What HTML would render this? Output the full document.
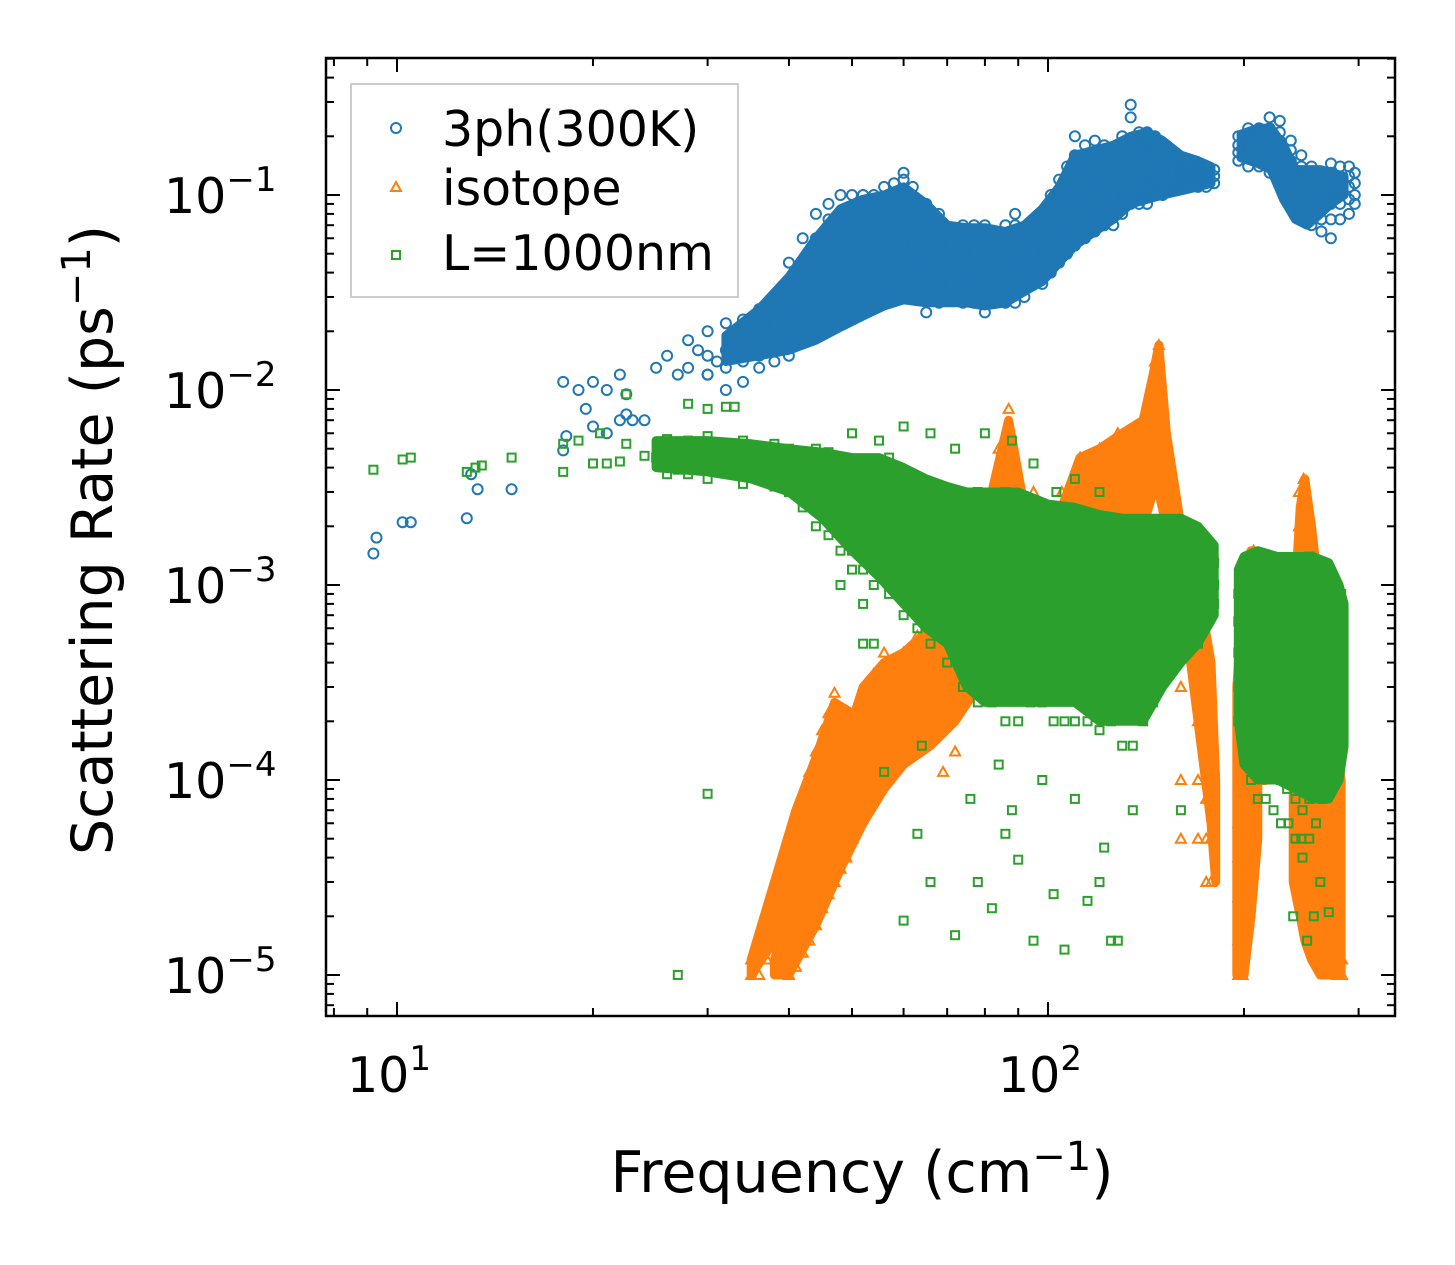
<!DOCTYPE html>
<html><head><meta charset="utf-8"><style>
html,body{margin:0;padding:0;background:#fff;}
svg{display:block;font-family:"DejaVu Sans","Liberation Sans",sans-serif;}
</style></head><body>
<svg id="chart" width="1455" height="1265" viewBox="0 0 1455 1265" xmlns="http://www.w3.org/2000/svg">
<rect width="1455" height="1265" fill="#fff"/>
<g id="marks"></g>
<g id="axes"></g>
<g id="legend">
<rect x="351" y="84" width="387" height="213" fill="#fff" fill-opacity="0.85" stroke="#ccc" stroke-width="2"/>
<circle cx="396" cy="128" r="5" fill="none" stroke="#1f77b4" stroke-width="2"/>
<text x="442" y="146" font-size="49">3ph(300K)</text>
<polygon points="396,182 401,191 391,191" fill="none" stroke="#ff7f0e" stroke-width="2"/>
<text x="442" y="205" font-size="49">isotope</text>
<rect x="392" y="251" width="8" height="8" fill="none" stroke="#2ca02c" stroke-width="2"/>
<text x="442" y="270" font-size="49">L=1000nm</text>
</g>
<text x="862" y="1192" font-size="57" text-anchor="middle">Frequency (cm<tspan dy="-22" font-size="40">−1</tspan><tspan dy="22">)</tspan></text>
<text transform="translate(112,540) rotate(-90)" font-size="57" text-anchor="middle">Scattering Rate (ps<tspan dy="-22" font-size="40">−1</tspan><tspan dy="22">)</tspan></text>
</svg>
<script>
// ---- data (frequency cm^-1 : rates ps^-1) ----
const blueScatter = [[9.2,1.45e-3],[9.3,1.75e-3],[10.2,2.1e-3],[10.5,2.1e-3],[12.8,2.2e-3],[13.3,3.1e-3],[13,3.7e-3],[15,3.1e-3],[18,1.1e-2],[18.2,5.8e-3],[18,4.9e-3],[19,1.0e-2],[19.5,8e-3],[20,1.1e-2],[20,6.5e-3],[21,1.0e-2],[21,6e-3],[22,1.2e-2],[22,7e-3],[22.5,9.5e-3],[22.5,7.5e-3],[23,7e-3],[24,7e-3],[25,1.3e-2],[26,1.5e-2],[27,1.2e-2],[28,1.8e-2],[28,1.3e-2],[29,1.6e-2],[30,1.2e-2],[31,1.4e-2]];
const blueFreq = [30,32,34,36,38,40,42,44,46,48,50,52,54,56,58,60,62,65,68,71,74,77,80,83,86,89,92,95,98,101,104,107,110,114,118,122,126,130,134,138,142,146,150,155,160,165,170,175,180,196,203,211,219,227,236,245,254,263,272,281,290,296];
const blueRates = [
[1.2e-2,1.5e-2,2e-2],[1.3e-2,1.6e-2,2.2e-2,1.0e-2],[1.4e-2,1.8e-2,2.3e-2,1.1e-2],[1.5e-2,2e-2,2.6e-2,1.3e-2],[1.6e-2,2.2e-2,3e-2,1.4e-2],
[1.8e-2,2.5e-2,3.5e-2,4.5e-2,1.5e-2],[1.8e-2,2.5e-2,3.2e-2,4.5e-2,6e-2],[2e-2,3e-2,4e-2,6e-2,8e-2],[2e-2,2.8e-2,4e-2,5.5e-2,7.5e-2,9e-2],[2.2e-2,3e-2,4.5e-2,6e-2,8e-2,1e-1],
[2.5e-2,3.5e-2,4.5e-2,6e-2,8e-2,1e-1],[2.5e-2,3.5e-2,5e-2,6.5e-2,8.5e-2,1e-1],[2.8e-2,3.8e-2,5e-2,6.5e-2,8e-2,1e-1],[3e-2,4e-2,5e-2,6.5e-2,8e-2,1.1e-1],[3e-2,4e-2,5.5e-2,7e-2,9e-2,1.15e-1],
[3e-2,4e-2,5.5e-2,7e-2,9e-2,1.2e-1,1.3e-1],[3.2e-2,4.5e-2,5.5e-2,7e-2,9e-2,1.1e-1],[2.5e-2,3.5e-2,4.5e-2,5.5e-2,7e-2,9e-2],[2.8e-2,3.5e-2,4.5e-2,5.5e-2,7e-2,8e-2],[3e-2,3.5e-2,4.5e-2,5.5e-2,6.5e-2],
[2.8e-2,3.5e-2,4.2e-2,5e-2,6e-2,7e-2],[2.8e-2,3.5e-2,4e-2,5e-2,6e-2,7e-2],[2.5e-2,3.2e-2,4e-2,5e-2,6e-2,7e-2],[2.8e-2,3.5e-2,4e-2,5e-2,6e-2],[2.8e-2,3.2e-2,4e-2,5e-2,6e-2,7e-2],
[2.8e-2,3.5e-2,4.5e-2,5.5e-2,7e-2,8e-2],[3e-2,3.8e-2,4.5e-2,5.5e-2,6.5e-2],[3.5e-2,4e-2,5e-2,6e-2,7e-2],[3.5e-2,4.5e-2,5.5e-2,6.5e-2,8e-2],[4e-2,5e-2,6e-2,7e-2,8.5e-2,1e-1],
[4.5e-2,5.5e-2,7e-2,8.5e-2,1e-1,1.2e-1],[5e-2,6e-2,7.5e-2,9e-2,1.1e-1,1.4e-1],[5.5e-2,7e-2,8.5e-2,1e-1,1.3e-1,1.6e-1,2e-1],[6e-2,7.5e-2,9e-2,1.1e-1,1.4e-1,1.8e-1],[6.5e-2,8e-2,1e-1,1.2e-1,1.5e-1,1.9e-1],
[7e-2,8.5e-2,1e-1,1.2e-1,1.5e-1,1.8e-1],[7e-2,8.5e-2,1e-1,1.2e-1,1.5e-1],[8e-2,9e-2,1.1e-1,1.3e-1,1.6e-1,2e-1],[9e-2,1.05e-1,1.25e-1,1.5e-1,1.9e-1,2.5e-1,2.9e-1],[9e-2,1.05e-1,1.25e-1,1.5e-1,1.8e-1,2.1e-1],
[9e-2,1.1e-1,1.3e-1,1.6e-1,1.9e-1,2.1e-1],[1e-1,1.15e-1,1.3e-1,1.5e-1,1.8e-1,2e-1],[1e-1,1.1e-1,1.25e-1,1.4e-1,1.6e-1],[1.05e-1,1.15e-1,1.3e-1,1.45e-1,1.6e-1],[1.1e-1,1.2e-1,1.3e-1,1.45e-1,1.55e-1],
[1.1e-1,1.2e-1,1.3e-1,1.4e-1],[1.1e-1,1.2e-1,1.3e-1,1.4e-1],[1.1e-1,1.2e-1,1.3e-1,1.4e-1],[1.15e-1,1.25e-1,1.35e-1],
[1.5e-1,1.65e-1,1.8e-1,2e-1],[1.4e-1,1.6e-1,1.8e-1,2e-1,2.2e-1],[1.4e-1,1.6e-1,1.8e-1,2e-1,2.2e-1],[1.3e-1,1.5e-1,1.7e-1,1.9e-1,2.2e-1,2.5e-1],[1.3e-1,1.5e-1,1.7e-1,1.9e-1,2.1e-1,2.4e-1],
[1.1e-1,1.3e-1,1.5e-1,1.7e-1,1.9e-1],[8e-2,1e-1,1.2e-1,1.4e-1,1.6e-1],[7e-2,8.5e-2,1e-1,1.2e-1,1.4e-1],[6.5e-2,7.5e-2,9e-2,1.1e-1,1.3e-1],[6e-2,7.5e-2,9e-2,1.05e-1,1.3e-1,1.45e-1],
[7.5e-2,9e-2,1.05e-1,1.2e-1,1.4e-1],[8e-2,9.5e-2,1.1e-1,1.25e-1,1.4e-1],[9e-2,1e-1,1.15e-1,1.3e-1]];

// dense-region envelopes: [frequency, low rate, high rate]
const blueBandMain = [[32,1.4e-2,1.9e-2],[36,1.5e-2,2.6e-2],[40,1.6e-2,3.8e-2],[44,1.8e-2,6e-2],[48,2.1e-2,8.5e-2],[52,2.4e-2,9.5e-2],[56,2.7e-2,1e-1],[60,2.9e-2,1.1e-1],[65,2.8e-2,9e-2],[70,2.8e-2,7e-2],[75,2.8e-2,6.8e-2],[80,2.7e-2,6.8e-2],[86,2.8e-2,6.5e-2],[92,3.2e-2,7e-2],[98,3.6e-2,8.5e-2],[104,4.5e-2,1.1e-1],[110,5.5e-2,1.6e-1],[118,6.5e-2,1.7e-1],[126,7.5e-2,1.8e-1],[134,9e-2,2e-1],[142,9.5e-2,2.1e-1],[150,1e-1,1.9e-1],[160,1.05e-1,1.6e-1],[170,1.1e-1,1.5e-1],[178,1.15e-1,1.4e-1]];
const blueBandHigh = [[198,1.55e-1,2.05e-1],[210,1.45e-1,2.2e-1],[220,1.35e-1,2.2e-1],[230,9.5e-2,1.8e-1],[240,7.5e-2,1.35e-1],[250,7e-2,1.35e-1],[262,8e-2,1.35e-1],[272,9e-2,1.3e-1],[285,1e-1,1.25e-1]];

const orangeBandA = [[38,1e-5,1.2e-5],[40,1e-5,2e-5],[44,1.8e-5,5e-5],[48,3.5e-5,1.3e-4],[52,6e-5,3e-4],[56,9e-5,4e-4],[60,1.2e-4,4.5e-4],[66,1.5e-4,6e-4],[72,2e-4,7e-4],[78,3e-4,1e-3]];
const orangeBandB = [[35,1e-5,1.2e-5],[38,1.5e-5,3e-5],[41,2.5e-5,7e-5],[44,4e-5,1.3e-4],[47,6e-5,2.5e-4],[50,8e-5,2.2e-4]];
const orangeBandC = [[82,1e-3,3e-3],[87,1.5e-3,7e-3],[92,1.2e-3,2.5e-3],[105,1.2e-3,2.5e-3],[112,1.5e-3,4.5e-3],[120,1.5e-3,5e-3],[130,2e-3,6e-3],[140,2e-3,7e-3],[145,3e-3,1.2e-2],[148,3e-3,1.7e-2],[152,2e-3,6e-3],[160,1e-3,2e-3],[170,2e-4,1e-3],[178,6e-5,4e-4],[181,3e-5,1e-4]];
const orangeBandD = [[195,1e-5,3e-4],[200,1e-5,1e-3],[205,2e-5,1.5e-3],[210,5e-5,1e-3]];
const orangeBandE = [[238,3e-5,6e-4],[244,2e-5,2.5e-3],[248,1.5e-5,3.5e-3],[254,1.2e-5,2e-3],[262,1e-5,8e-4],[272,1e-5,3e-4],[282,1e-5,1e-4]];

const greenBandMain = [[25,4e-3,5.5e-3],[30,3.8e-3,5.5e-3],[35,3.5e-3,5.3e-3],[40,3e-3,5e-3],[45,2.2e-3,4.8e-3],[50,1.5e-3,4.5e-3],[55,1.1e-3,4.5e-3],[60,8e-4,4e-3],[65,6e-4,3.5e-3],[70,5e-4,3.2e-3],[75,3e-4,3e-3],[80,2.5e-4,3e-3],[90,2.5e-4,3e-3],[100,2.5e-4,2.6e-3],[110,2.5e-4,2.5e-3],[120,2e-4,2.3e-3],[130,2e-4,2.2e-3],[140,2e-4,2.2e-3],[150,3e-4,2.2e-3],[160,4e-4,2.2e-3],[170,5e-4,2e-3],[180,7e-4,1.6e-3]];
const greenBandHigh = [[196,2e-4,1.2e-3],[200,1.2e-4,1.4e-3],[210,1e-4,1.5e-3],[225,1e-4,1.4e-3],[240,9e-5,1.4e-3],[255,8e-5,1.4e-3],[270,8e-5,1.3e-3],[280,1e-4,1e-3],[285,1.5e-4,8e-4]];

const orangeFreq = [35,36,37,38,39,40,41,42,43,44,45,46,47,48,49,50,51,52,54,56,58,60,63,66,69,72,78,84,87,95,105,112,120,128,136,142,146,148,150,160,170,175,178,196,199,203,207,212,238,243,247,251,255,259,263,268,273,278,283];
const orangeRates = [
[1e-5,1.2e-5],[1e-5,1.3e-5,1.6e-5],[1.2e-5,1.6e-5,2e-5],[1.4e-5,2e-5,2.6e-5],[1.1e-5,1.8e-5,2.6e-5,3.4e-5],
[1e-5,1.3e-5,2.3e-5,3.5e-5,4.5e-5],[1.1e-5,1.5e-5,3e-5,4.5e-5,6e-5],[1.3e-5,1.8e-5,4e-5,6e-5,8e-5],[1.5e-5,2.2e-5,5e-5,8e-5,1.1e-4],[1.8e-5,2.6e-5,6.5e-5,1e-4,1.4e-4],
[2.2e-5,3e-5,8e-5,1.3e-4,1.8e-4],[2.6e-5,3.6e-5,1e-4,1.6e-4,2.2e-4],[3e-5,4.5e-5,1.2e-4,2e-4,2.8e-4],[3.5e-5,5e-5,7e-5,1e-4,1.5e-4],[4e-5,6e-5,8e-5,1.2e-4,1.6e-4],
[5e-5,7e-5,1e-4,1.4e-4],[6e-5,8e-5,1.1e-4,1.5e-4,2e-4],[7e-5,1e-4,1.3e-4,1.8e-4,2.4e-4],[8e-5,1.1e-4,1.5e-4,2e-4,2.8e-4,3.5e-4],[1e-4,1.4e-4,1.9e-4,2.5e-4,3.3e-4,4.5e-4],
[1.2e-4,1.6e-4,2.2e-4,3e-4,4e-4],[1.4e-4,1.9e-4,2.6e-4,3.4e-4,4.5e-4],[1.7e-4,2.3e-4,3e-4,4e-4,5.5e-4],[2e-4,2.7e-4,3.5e-4,4.5e-4,6e-4,7e-4],[1.1e-4,2.5e-4,3.2e-4,4.2e-4,5.5e-4],
[1.4e-4,3e-4,4e-4,5e-4],[3e-4,6e-4,1e-3],[1.5e-3,3e-3,5e-3],[2e-3,4e-3,8e-3],[1e-3,2e-3,3e-3],
[1e-3,2e-3,3e-3],[1.5e-3,3e-3,4.5e-3],[2e-3,3.5e-3,5e-3],[2e-3,4e-3,6e-3],[2e-3,3.5e-3,5e-3],
[3e-3,5e-3,7e-3],[3e-3,6e-3,1e-2,1.4e-2],[4e-3,8e-3,1.2e-2,1.7e-2],[3e-3,5e-3,8e-3],[5e-5,1e-4,3e-4],
[5e-5,1e-4,2e-4,4e-4],[3e-5,5e-5,8e-5,1.2e-4],[3e-5,5e-5],[1e-5,1.5e-5,2.5e-5,4e-5,6e-5],[1e-5,2e-5,3e-5,5e-5,8e-5,1.2e-4],
[2e-5,4e-5,1e-4,2e-4,4e-4,1e-3],[5e-5,1e-4,2e-4,5e-4,1e-3,1.5e-3],[1e-4,2e-4,5e-4],[1e-4,3e-4,1e-3],[2e-4,5e-4,1e-3,2e-3,3e-3],
[3e-4,6e-4,1.2e-3,2.5e-3,3.5e-3],[2e-4,5e-4,1e-3,2e-3],[8e-5,2e-4,5e-4,1e-3],[5e-5,1e-4,2e-4],[3e-5,5e-5,1e-4],
[2e-5,3e-5,5e-5],[1.2e-5,2e-5,3e-5],[1e-5,1.3e-5,2e-5],[1e-5,1.2e-5]];

const greenScatter = [[9.2,3.9e-3],[10.2,4.4e-3],[10.5,4.5e-3],[12.8,3.8e-3],[13.2,4e-3],[13.5,4.1e-3],[15,4.5e-3],[18,3.8e-3],[18,5.3e-3],[19,5.5e-3],[20,4.2e-3],[20.5,6e-3],[21,4.2e-3],[22,4.3e-3],[22.5,5.3e-3],[22.5,9.5e-3],[24,4.6e-3],[25,4.5e-3],[26,3.7e-3],[27,3.9e-3],[28,8.5e-3],[30,8e-3],[32,8.2e-3],[33,8.2e-3],[27,1e-5],[30,8.5e-5],
[60,1.9e-5],[63,5.3e-5],[66,3e-5],[72,1.6e-5],[78,3e-5],[82,2.2e-5],[86,5.3e-5],[90,3.9e-5],[95,1.5e-5],[102,2.6e-5],[106,1.35e-5],[115,2.4e-5],[120,3e-5],[125,1.5e-5],[128,1.5e-5],[88,7e-5],[98,1e-4],[110,8e-5],[122,4.5e-5],[135,7e-5],[160,7e-5],[56,1.1e-4],[50,1.5e-3],[52,5e-4],[64,1.5e-4],[76,8e-5],[84,1.2e-4],[55,5.5e-3],[60,6.5e-3],[66,6e-3],[72,5e-3],[80,6e-3],[88,5.5e-3],[95,4.2e-3],[103,3e-3],[110,3.5e-3],[120,3e-3],
[238,2e-5],[250,1.5e-5],[256,2e-5],[262,3e-5],[270,2.1e-5],[245,5e-5],[233,9e-5]];
const greenFreq = [26,28,30,32,34,36,38,40,42,44,46,48,50,52,54,57,60,63,66,70,74,78,82,86,90,94,98,102,106,110,115,120,125,130,135,140,145,150,155,160,165,170,175,180,196,200,205,210,216,222,228,234,240,246,252,258,264,270,276,282];
const greenRates = [
[4e-3,5e-3,5.6e-3],[3.7e-3,4.5e-3,5.5e-3],[3.5e-3,4.3e-3,5.2e-3,5.8e-3],[3.8e-3,4.5e-3,5.3e-3],[3.3e-3,4e-3,4.8e-3,5.5e-3],
[3.5e-3,4.2e-3,5e-3],[3.2e-3,4e-3,4.8e-3,5.3e-3],[3e-3,3.8e-3,4.5e-3,5e-3],[2.5e-3,3.2e-3,4e-3,4.8e-3],[2e-3,2.8e-3,3.5e-3,4.3e-3,5e-3],
[1.8e-3,2.5e-3,3.2e-3,4e-3,4.8e-3],[1.5e-3,2e-3,2.8e-3,3.6e-3,4.5e-3,1e-3],[1.2e-3,1.8e-3,2.5e-3,3.2e-3,4e-3,6e-3],[1.2e-3,1.6e-3,2.2e-3,3e-3,3.8e-3,8e-4],[1e-3,1.5e-3,2e-3,2.8e-3,3.6e-3,5e-4],
[9e-4,1.3e-3,1.8e-3,2.5e-3,3.2e-3,4.5e-3],[7e-4,1e-3,1.5e-3,2e-3,2.8e-3,3.8e-3],[6e-4,9e-4,1.3e-3,1.8e-3,2.5e-3,3.5e-3],[5e-4,8e-4,1.2e-3,1.7e-3,2.4e-3,3.3e-3],[4e-4,7e-4,1e-3,1.5e-3,2.2e-3,3e-3],
[3e-4,5e-4,8e-4,1.2e-3,1.8e-3,2.6e-3],[2.5e-4,4e-4,6e-4,9e-4,1.3e-3,2e-3,3e-3],[2.5e-4,3.5e-4,5e-4,7e-4,1e-3,1.5e-3,2.2e-3],[2e-4,3e-4,4.5e-4,6.5e-4,9e-4,1.3e-3,2e-3,3e-3],[2e-4,3e-4,4.5e-4,6e-4,8.5e-4,1.2e-3,1.7e-3,2.5e-3],
[2.5e-4,3.5e-4,5e-4,7e-4,1e-3,1.4e-3,2e-3],[2.5e-4,3.5e-4,5e-4,7e-4,1e-3,1.4e-3,1.9e-3,2.5e-3],[2e-4,3e-4,4.5e-4,6.5e-4,9e-4,1.3e-3,1.8e-3,2.3e-3],[2e-4,3e-4,4.5e-4,6.5e-4,9e-4,1.3e-3,1.8e-3],[2e-4,3e-4,4.5e-4,6.5e-4,9e-4,1.3e-3,1.8e-3,2.2e-3],
[2e-4,3e-4,4.5e-4,6.5e-4,9e-4,1.2e-3,1.6e-3,2e-3],[1.8e-4,2.8e-4,4e-4,6e-4,8.5e-4,1.2e-3,1.6e-3,2e-3],[2e-4,3e-4,4.5e-4,6.5e-4,9e-4,1.2e-3,1.6e-3,2e-3],[1.5e-4,2.5e-4,3.5e-4,5e-4,7.5e-4,1e-3,1.4e-3,1.9e-3],[1.5e-4,2.5e-4,4e-4,6e-4,8e-4,1.1e-3,1.5e-3,2e-3],
[2e-4,3e-4,4.5e-4,6.5e-4,9e-4,1.2e-3,1.6e-3,2e-3],[2.5e-4,3.5e-4,5e-4,7e-4,1e-3,1.3e-3,1.7e-3],[4e-4,6e-4,8e-4,1.1e-3,1.4e-3,1.8e-3],[6e-4,8e-4,1e-3,1.3e-3,1.6e-3,2e-3],[5e-4,7e-4,9e-4,1.2e-3,1.5e-3,1.9e-3],
[6e-4,8e-4,1e-3,1.3e-3,1.7e-3,2e-3],[5e-4,7e-4,9e-4,1.2e-3,1.6e-3],[7e-4,9e-4,1.2e-3,1.5e-3],[8e-4,1e-3,1.3e-3],
[2e-4,3e-4,4.5e-4,6.5e-4,9e-4],[1.5e-4,2.5e-4,4e-4,6e-4,9e-4,1.2e-3],[1e-4,1.8e-4,3e-4,5e-4,8e-4,1.2e-3],[8e-5,1.3e-4,2.2e-4,3.5e-4,6e-4,1e-3],[8e-5,1.2e-4,2e-4,3.5e-4,6e-4,1e-3,1.4e-3],
[7e-5,1.1e-4,1.8e-4,3e-4,5e-4,8e-4,1.3e-3],[6e-5,1e-4,1.6e-4,2.7e-4,4.5e-4,7.5e-4,1.2e-3],[6e-5,1e-4,1.6e-4,2.7e-4,4.5e-4,7.5e-4,1.1e-3],[5e-5,8e-5,1.3e-4,2.2e-4,3.7e-4,6e-4,1e-3],[4e-5,7e-5,1.1e-4,1.8e-4,3e-4,5e-4,8e-4],
[5e-5,8e-5,1.3e-4,2.2e-4,3.7e-4,6e-4,1e-3,1.4e-3],[6e-5,1e-4,1.6e-4,2.7e-4,4.5e-4,7.5e-4,1.2e-3],[8e-5,1.3e-4,2.2e-4,3.5e-4,6e-4,1e-3],[1e-4,1.6e-4,2.7e-4,4.5e-4,7.5e-4,1.1e-3],[1.2e-4,2e-4,3.3e-4,5.5e-4,9e-4],
[1.5e-4,2.5e-4,4e-4,6.5e-4,9e-4]];

const xTickExp = [1, 2];
const yTickExp = [-1, -2, -3, -4, -5];

// ---- axes ----
const PL=326, PR=1395, PT=58, PB=1016;
const xDec=651, x10=397, yDec=195, y1=195;
function xs(f){ return x10 + (Math.log10(f)-1)*xDec; }
function ys(r){ return y1 + (-1-Math.log10(r))*yDec; }

const NS="http://www.w3.org/2000/svg";
const marks=document.getElementById('marks');
const axes=document.getElementById('axes');
function mk(tag, attrs, parent){
  const e=document.createElementNS(NS,tag);
  for(const k in attrs) e.setAttribute(k, attrs[k]);
  parent.appendChild(e); return e;
}
function flatten(freqs, rates, extra){
  const pts = extra ? extra.slice() : [];
  freqs.forEach((f,i)=>{ (rates[i]||[]).forEach(r=>pts.push([f,r])); });
  return pts;
}
function band(rows, color, parent, name){
  const up = rows.map(r=>xs(r[0]).toFixed(1)+','+ys(r[2]).toFixed(1));
  const lo = rows.slice().reverse().map(r=>xs(r[0]).toFixed(1)+','+ys(r[1]).toFixed(1));
  const p=mk('polygon',{points:up.concat(lo).join(' '),fill:color,stroke:color,'stroke-width':9,'stroke-linejoin':'round'},parent);
  
  
}

const gB=mk('g',{},marks);


band(blueBandMain,'#1f77b4',gB,'band-3ph-main');
band(blueBandHigh,'#1f77b4',gB,'band-3ph-high');
flatten(blueFreq, blueRates, blueScatter).forEach(p=>{
  const c=mk('circle',{cx:xs(p[0]).toFixed(1),cy:ys(p[1]).toFixed(1),r:5,fill:'none',stroke:'#1f77b4','stroke-width':2},gB);
  
  
});
const gO=mk('g',{},marks);


band(orangeBandA,'#ff7f0e',gO,'band-isotope-a');
band(orangeBandB,'#ff7f0e',gO,'band-isotope-b');
band(orangeBandC,'#ff7f0e',gO,'band-isotope-c');
band(orangeBandD,'#ff7f0e',gO,'band-isotope-d');
band(orangeBandE,'#ff7f0e',gO,'band-isotope-e');
flatten(orangeFreq, orangeRates).forEach(p=>{
  const x=xs(p[0]), y=ys(p[1]);
  const t=mk('polygon',{points:`${x},${y-5} ${x+5},${y+4} ${x-5},${y+4}`,fill:'none',stroke:'#ff7f0e','stroke-width':2},gO);
  
  
});
const gG=mk('g',{},marks);


band(greenBandMain,'#2ca02c',gG,'band-boundary-main');
band(greenBandHigh,'#2ca02c',gG,'band-boundary-high');
flatten(greenFreq, greenRates, greenScatter).forEach(p=>{
  const s=mk('rect',{x:(xs(p[0])-4).toFixed(1),y:(ys(p[1])-4).toFixed(1),width:8,height:8,fill:'none',stroke:'#2ca02c','stroke-width':2},gG);
  
  
});

const fr=mk('rect',{x:PL,y:PT,width:PR-PL,height:PB-PT,fill:'none',stroke:'#000','stroke-width':2.5},axes);



for(let d=0; d<=2; d++){
  for(let m=1;m<10;m++){
    const f=m*Math.pow(10,d);
    const x=xs(f);
    if(x<PL||x>PR) continue;
    const L = m===1?14:8;
    mk('line',{x1:x,y1:PB,x2:x,y2:PB-L,stroke:'#000','stroke-width':2},axes);
    mk('line',{x1:x,y1:PT,x2:x,y2:PT+L,stroke:'#000','stroke-width':2},axes);
  }
}
xTickExp.forEach(e=>{
  const t=mk('text',{x:xs(Math.pow(10,e))-8,y:1092,'font-size':49,'text-anchor':'middle'},axes);
  
  
  t.innerHTML=`10<tspan dy="-22" font-size="34">${e}</tspan>`;
});
for(let d=-6; d<=0; d++){
  for(let m=1;m<10;m++){
    const r=m*Math.pow(10,d);
    const y=ys(r);
    if(y<PT||y>PB) continue;
    const L = m===1?14:8;
    mk('line',{x1:PL,y1:y,x2:PL+L,y2:y,stroke:'#000','stroke-width':2},axes);
    mk('line',{x1:PR,y1:y,x2:PR-L,y2:y,stroke:'#000','stroke-width':2},axes);
  }
}
yTickExp.forEach(e=>{
  const t=mk('text',{x:164,y:ys(Math.pow(10,e))+18,'font-size':49},axes);
  
  
  t.innerHTML=`10<tspan dy="-22" font-size="34">−${-e}</tspan>`;
});
</script>
</body></html>
